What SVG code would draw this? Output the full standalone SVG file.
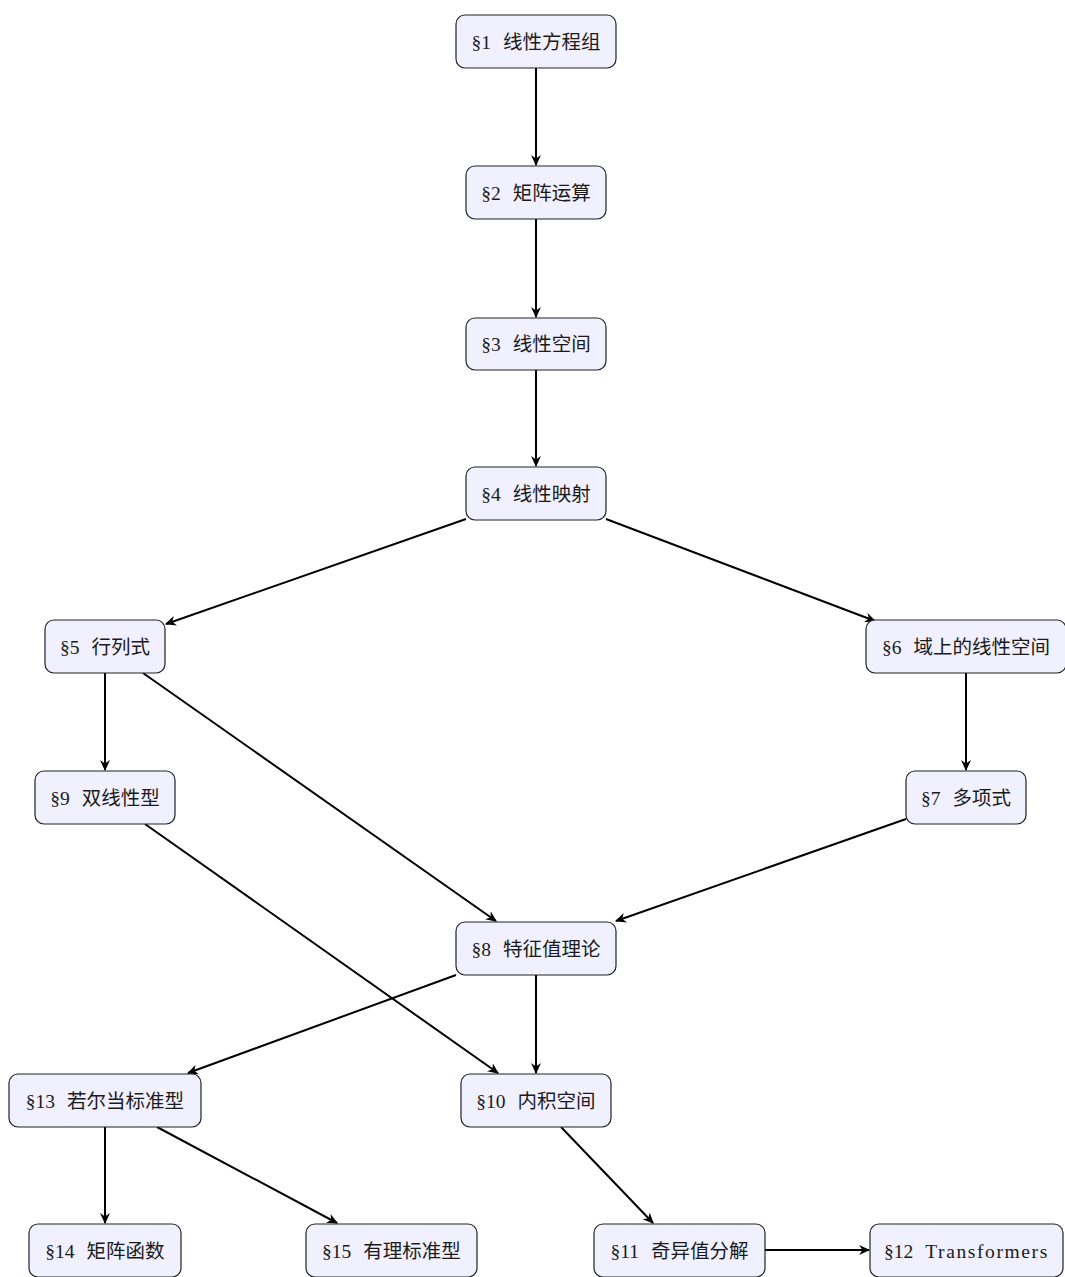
<svg xmlns="http://www.w3.org/2000/svg" width="1065" height="1277" viewBox="0 0 1065 1277">
<defs>
<style>
.node rect{fill:#f0f0fe;stroke:#222;stroke-width:1.2}
.node text{font-family:"Liberation Serif","Noto Sans CJK SC",serif;font-size:19.5px;fill:#1a1a1a;text-anchor:middle;dominant-baseline:central}
.edges line{stroke:#000;stroke-width:2;marker-end:url(#ah)}
</style>
<marker id="ah" viewBox="0 0 10 10" refX="9" refY="5" markerWidth="5.5" markerHeight="5.5" orient="auto" markerUnits="strokeWidth">
<path d="M0,0.5 L10,5 L0,9.5 L3,5 Z" fill="#000"/>
</marker>
</defs>
<rect width="1065" height="1277" fill="#fff"/>
<g class="edges">
<line x1="536" y1="68" x2="536" y2="165"/>
<line x1="536" y1="219" x2="536" y2="317"/>
<line x1="536" y1="370" x2="536" y2="466"/>
<line x1="466" y1="519" x2="166" y2="624"/>
<line x1="606" y1="519" x2="875" y2="621"/>
<line x1="105" y1="673" x2="105" y2="770"/>
<line x1="143" y1="673" x2="496" y2="921"/>
<line x1="966" y1="673" x2="966" y2="770"/>
<line x1="906" y1="819" x2="616" y2="921"/>
<line x1="145" y1="824" x2="498" y2="1073"/>
<line x1="456" y1="975" x2="188" y2="1073"/>
<line x1="536" y1="975" x2="536" y2="1073"/>
<line x1="105" y1="1127" x2="105" y2="1223"/>
<line x1="157" y1="1127" x2="337" y2="1223"/>
<line x1="561" y1="1127" x2="653" y2="1223"/>
<line x1="765" y1="1250" x2="869" y2="1250"/>
</g>
<g id="n1" class="node"><rect x="456" y="15" width="160" height="53" rx="9"/><text x="536" y="42">§1<tspan dx="12">线性方程组</tspan></text></g>
<g id="n2" class="node"><rect x="466" y="166" width="140" height="53" rx="9"/><text x="536" y="193">§2<tspan dx="12">矩阵运算</tspan></text></g>
<g id="n3" class="node"><rect x="466" y="318" width="140" height="52" rx="9"/><text x="536" y="344">§3<tspan dx="12">线性空间</tspan></text></g>
<g id="n4" class="node"><rect x="466" y="467" width="140" height="53" rx="9"/><text x="536" y="494">§4<tspan dx="12">线性映射</tspan></text></g>
<g id="n5" class="node"><rect x="45" y="620" width="120" height="53" rx="9"/><text x="105" y="647">§5<tspan dx="12">行列式</tspan></text></g>
<g id="n6" class="node"><rect x="866" y="620" width="200" height="53" rx="9"/><text x="966" y="647">§6<tspan dx="12">域上的线性空间</tspan></text></g>
<g id="n7" class="node"><rect x="906" y="771" width="120" height="53" rx="9"/><text x="966" y="798">§7<tspan dx="12">多项式</tspan></text></g>
<g id="n9" class="node"><rect x="35" y="771" width="140" height="53" rx="9"/><text x="105" y="798">§9<tspan dx="12">双线性型</tspan></text></g>
<g id="n8" class="node"><rect x="456" y="922" width="160" height="53" rx="9"/><text x="536" y="949">§8<tspan dx="12">特征值理论</tspan></text></g>
<g id="n13" class="node"><rect x="9" y="1074" width="192" height="53" rx="9"/><text x="105" y="1101">§13<tspan dx="12">若尔当标准型</tspan></text></g>
<g id="n10" class="node"><rect x="461" y="1074" width="150" height="53" rx="9"/><text x="536" y="1101">§10<tspan dx="12">内积空间</tspan></text></g>
<g id="n14" class="node"><rect x="29" y="1224" width="152" height="53" rx="9"/><text x="105" y="1251">§14<tspan dx="12">矩阵函数</tspan></text></g>
<g id="n15" class="node"><rect x="306" y="1224" width="171" height="53" rx="9"/><text x="391.5" y="1251">§15<tspan dx="12">有理标准型</tspan></text></g>
<g id="n11" class="node"><rect x="594" y="1224" width="171" height="53" rx="9"/><text x="679.5" y="1251">§11<tspan dx="12">奇异值分解</tspan></text></g>
<g id="n12" class="node"><rect x="870" y="1224" width="193" height="53" rx="9"/><text x="884" y="1251" style="text-anchor:start">§12<tspan dx="12" textLength="122" lengthAdjust="spacing">Transformers</tspan></text></g>
</svg>
